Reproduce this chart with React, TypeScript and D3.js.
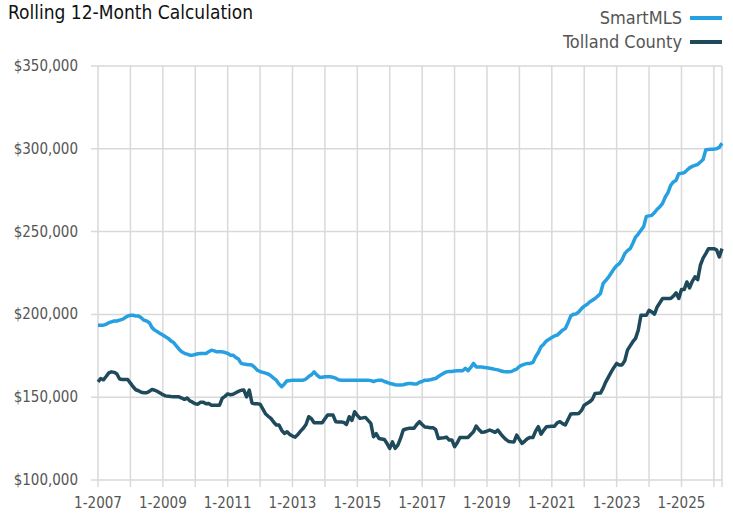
import React from 'react';
import * as d3 from 'd3';

// monthly rolling 12-month median, Jan 2007 - Apr 2026, in $1,000s
const smartMLS = [
  193.5, 193.5, 193.5, 194, 195, 195.5, 196, 196, 196.5, 197, 198, 199,
  199.5, 199.5, 199, 199, 198, 196.5, 196, 195, 192, 190.5, 189.5, 188.5,
  187.5, 186.5, 185.5, 184, 183, 181, 179, 177.4, 176.5, 176, 175.4, 175.4,
  175.8, 176.2, 176.4, 176.4, 176.4, 177.5, 178.4, 178, 177.4, 177.4, 177.4, 177,
  176.5, 175.4, 175.4, 174, 173, 170.4, 170, 169.8, 169.6, 169.4, 168, 166.3,
  165.5, 165, 164.5, 164, 163, 161.5, 160.3, 158, 156.3, 158, 160, 160,
  160.3, 160.3, 160.3, 160.3, 160.3, 161, 162.5, 163.5, 165.3, 163.5, 162, 162,
  162.3, 162.3, 162.3, 162, 161.5, 160.5, 160.3, 160.3, 160.3, 160.3, 160.3, 160.3,
  160.3, 160.3, 160.3, 160.3, 160.3, 160, 159.5, 160, 160.3, 160.3, 159.5, 159,
  158.3, 158, 157.5, 157.3, 157.3, 157.5, 158, 158.3, 158.3, 158, 158, 159,
  159.5, 160.3, 160.3, 160.5, 161, 161.3, 162.5, 163.5, 164.5, 165.3, 165.5, 165.5,
  165.8, 165.9, 165.9, 166, 167.5, 166, 168, 170.4, 168.3, 168.3, 168.2, 168,
  167.8, 167.5, 167.2, 166.8, 166.5, 166, 165.5, 165.3, 165.3, 165.5, 166.3, 167,
  168.5, 169.4, 170, 170.4, 170.4, 171, 174.4, 177, 180.4, 182, 184, 185,
  186, 187, 187.5, 189, 190.5, 191.5, 195, 199, 200.1, 200.3, 201.5, 203.5,
  205, 206, 207.5, 208.5, 209.6, 211, 212.6, 218.7, 220.6, 222.5, 225, 227.5,
  229.5, 230.7, 233, 236.7, 238.5, 239.7, 243, 246.7, 248.5, 250.8, 253, 259.2,
  259.5, 259.8, 261.5, 263.5, 265, 267, 270.9, 273.5, 277.9, 280, 281, 285,
  285.2, 285.5, 287, 288.5, 289.4, 290, 290.5, 292, 293.5, 299.4, 299.6, 299.8,
  299.8, 300, 301, 303.4,
];

const tolland = [
  159.3, 161.3, 160.5, 162.5, 164.7, 165.3, 165, 164, 161, 160.7, 160.7, 160.7,
  158.5, 156.3, 154.5, 153.9, 153, 152.7, 152.7, 153.5, 154.7, 154.2, 153.5, 152.5,
  151.5, 150.8, 150.6, 150.4, 150.3, 150.2, 150.2, 149.5, 148.7, 149.5, 147.8, 147,
  146, 145.8, 147, 147, 146, 146.2, 145.2, 145.2, 145.2, 145.2, 149.4, 150.5,
  152, 151.5, 151.8, 152.7, 153.5, 154.2, 154.3, 150.2, 154.3, 146.5, 146, 146,
  145.8, 143, 140, 138.5, 137.2, 135, 133.2, 133.2, 130, 128.1, 129.1, 127.5,
  126.5, 125.9, 127.5, 129.5, 131.2, 133.5, 138.2, 137, 134.6, 134.6, 134.6, 134.6,
  137, 139.2, 139.2, 139.2, 135.2, 135, 135, 134.8, 133.5, 138.2, 136, 141.2,
  139, 137.2, 137.5, 137.8, 136, 134.2, 126.1, 128, 125.1, 124.8, 124.5, 122,
  119.1, 123, 119.1, 121, 125.1, 130.2, 130.8, 131.2, 131.2, 131.2, 133.5, 135.2,
  133.5, 132, 131.8, 131.6, 131.5, 130.5, 125.1, 125.3, 125.5, 125.9, 124.2, 124.2,
  120.1, 122.5, 125.7, 125.7, 125.7, 125.7, 127.5, 129.1, 132.6, 130.5, 128.8, 129,
  129.5, 130.2, 129.5, 128.8, 130.2, 128, 126.1, 124.5, 123.3, 123.1, 123, 127.1,
  124.5, 122.1, 123.5, 125, 125.7, 125.7, 129.5, 132.2, 127.7, 130, 132.2, 132.3,
  132.4, 132.5, 134.5, 135.2, 134, 133.2, 136.5, 139.8, 140, 140, 140.2, 142,
  145.2, 146.2, 147.2, 148.7, 152.3, 152.4, 152.5, 155.5, 159.3, 162.3, 165.3, 168,
  170.4, 169.4, 169.5, 172, 178.4, 181, 183.5, 185.5, 190.5, 199.5, 199.5, 199.5,
  202.5, 201.5, 200.1, 204.5, 207, 209.6, 209.6, 209.6, 209.6, 211, 213, 209.6,
  215, 215, 219.6, 216, 220, 222.7, 221, 229.7, 234, 236.7, 239.7, 239.7,
  239.7, 239, 234.7, 239.7,
];

const yTicks = [100000, 150000, 200000, 250000, 300000, 350000];
const startYear = 2007;
const labelYears = [2007, 2009, 2011, 2013, 2015, 2017, 2019, 2021, 2023, 2025];

const series = [
  {name: 'SmartMLS', values: smartMLS, color: '#27a0e1'},
  {name: 'Tolland County', values: tolland, color: '#1f4a5b'},
];

const W = 733;
const H = 515;
const font = '"Liberation Sans Narrow", "DejaVu Sans Condensed", Arial, sans-serif';

export default function App() {
  const n = smartMLS.length;
  const x = d3.scaleLinear().domain([0, n - 1]).range([98, 722]);
  const y = d3.scaleLinear().domain([100000, 350000]).range([480, 66]);
  const line = d3.line<number>()
      .x((d, i) => x(i))
      .y((d) => y(d * 1000));

  const years = d3.range(startYear, startYear + Math.floor((n - 1) / 12) + 1);
  const fmt = d3.format('$,');
  const grid = '#d9d9d9';

  return (
    <svg width={W} height={H} style={{position: 'absolute', left: 0, top: 0}}
      fontFamily={font}>
      <rect width={W} height={H} fill="white"/>
      <text x={8} y={19} fontSize={19} fill="#111">Rolling 12-Month Calculation</text>

      {yTicks.map((t) => (
        <g key={t}>
          <line x1={91} x2={722} y1={y(t)} y2={y(t)} stroke={grid} strokeWidth={1.5}/>
          <text x={78} y={y(t) + 5} textAnchor="end" fontSize={15} fill="#555">{fmt(t)}</text>
        </g>
      ))}
      {years.map((yr) => {
        const xi = x((yr - startYear) * 12);
        return (
          <g key={yr}>
            <line x1={xi} x2={xi} y1={66} y2={487} stroke={grid} strokeWidth={1.5}/>
            {labelYears.includes(yr) &&
              <text x={xi} y={508} textAnchor="middle" fontSize={15} fill="#555">{'1-' + yr}</text>}
          </g>
        );
      })}
      <line x1={722} x2={722} y1={66} y2={487} stroke={grid} strokeWidth={1.5}/>

      {series.map((s) => (
        <path key={s.name} d={line(s.values) || ''} fill="none" stroke={s.color}
          strokeWidth={3.5} strokeLinejoin="round"/>
      ))}

      {series.map((s, i) => (
        <g key={s.name} transform={`translate(0, ${24 + i * 24})`}>
          <text x={682} y={0} textAnchor="end" fontSize={18} fill="#555">{s.name}</text>
          <line x1={690} x2={722} y1={-6} y2={-6} stroke={s.color} strokeWidth={4}/>
        </g>
      ))}
    </svg>
  );
}
